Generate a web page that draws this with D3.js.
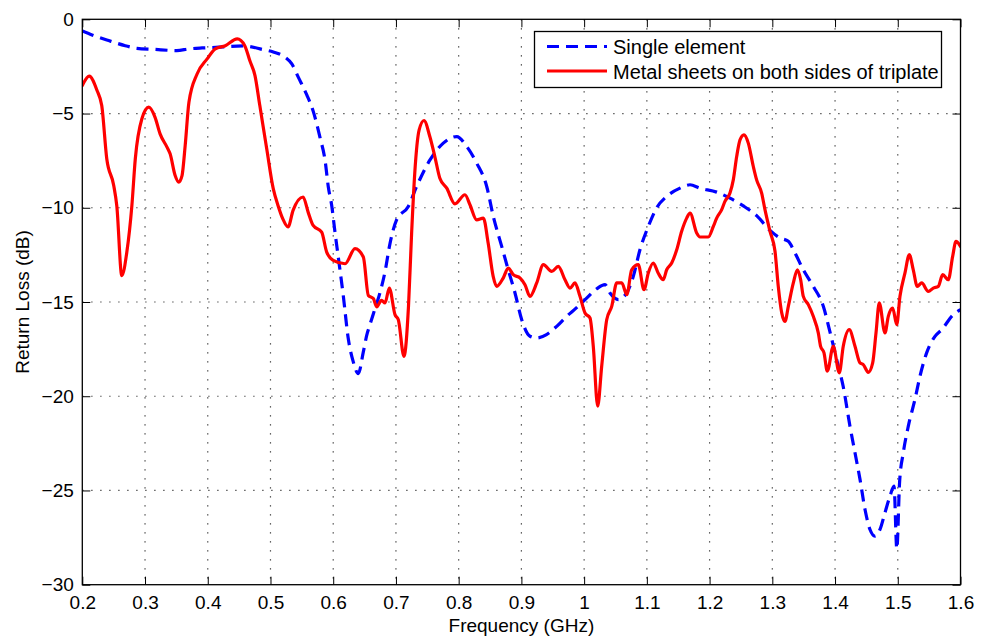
<!DOCTYPE html>
<html>
<head>
<meta charset="utf-8">
<script src="https://cdn.jsdelivr.net/npm/d3@7/dist/d3.min.js"></script>
<style>
  html, body { margin: 0; padding: 0; background: #fff; }
  svg text { font-family: "Liberation Sans", Arial, Helvetica, sans-serif; fill: #000; }
</style>
</head>
<body>
<svg id="chart" width="982" height="639"></svg>
<script>
// Return loss of a single element (dashed blue)
const singleFreq = [0.200,0.2155,0.242,0.2685,0.287,0.313,0.3505,0.370,0.391,0.4175,0.430,0.4567,0.4885,0.5045,0.523,0.534,0.5443,0.5577,0.5683,0.579,0.587,0.5922,0.5976,0.6028,0.608,0.616,0.624,0.632,0.640,0.648,0.6534,0.6586,0.6666,0.6746,0.6825,0.6905,0.701,0.7197,0.733,0.7543,0.7755,0.7969,0.8128,0.8287,0.8447,0.8552,0.8686,0.879,0.8898,0.9005,0.9137,0.9244,0.940,0.9563,0.9722,0.988,1.004,1.020,1.0333,1.0412,1.0545,1.0678,1.0784,1.089,1.1023,1.1157,1.1316,1.1528,1.1688,1.1847,1.2113,1.2325,1.2537,1.275,1.2963,1.3122,1.3255,1.3362,1.3494,1.3653,1.3813,1.392,1.4026,1.4131,1.4238,1.4318,1.4398,1.4477,1.4557,1.4637,1.4717,1.4796,1.4876,1.494,1.4985,1.503,1.5088,1.5168,1.5274,1.5354,1.546,1.5593,1.570,1.5885,1.600];
const singleLoss = [-0.62,-0.83,-1.13,-1.40,-1.54,-1.59,-1.66,-1.57,-1.52,-1.48,-1.45,-1.41,-1.61,-1.73,-2.01,-2.37,-3.07,-4.0,-4.9,-6.28,-7.48,-8.9,-9.88,-11.29,-12.6,-14.65,-16.94,-18.18,-18.8,-17.65,-16.77,-16.2,-15.35,-14.5,-13.41,-11.9,-10.64,-9.93,-8.87,-7.46,-6.57,-6.22,-6.75,-7.63,-8.87,-10.46,-12.05,-13.29,-14.52,-15.94,-16.82,-16.91,-16.73,-16.29,-15.76,-15.3,-14.79,-14.3,-14.08,-14.52,-14.87,-14.52,-13.64,-12.23,-10.99,-10.0,-9.4,-8.96,-8.78,-8.96,-9.17,-9.49,-9.9,-10.42,-11.2,-11.6,-11.78,-12.4,-13.29,-14.17,-15.23,-16.6,-18.06,-19.5,-21.59,-23.0,-24.41,-26.0,-27.07,-27.42,-27.07,-26.18,-25.3,-24.77,-28.1,-24.5,-23.0,-21.59,-20.17,-18.94,-17.7,-16.82,-16.47,-15.67,-15.41];

// Return loss with metal sheets on both sides of the triplate (solid red)
const sheetFreq = [0.200,0.211,0.2235,0.231,0.239,0.250,0.255,0.263,0.271,0.279,0.2845,0.295,0.306,0.316,0.324,0.335,0.340,0.348,0.3537,0.359,0.364,0.370,0.383,0.399,0.412,0.428,0.447,0.459,0.467,0.4753,0.483,0.494,0.5045,0.512,0.5195,0.528,0.536,0.552,0.560,0.568,0.5816,0.5896,0.600,0.619,0.6347,0.648,0.656,0.664,0.6693,0.677,0.6826,0.6894,0.6985,0.7038,0.7128,0.720,0.725,0.730,0.737,0.7447,0.754,0.762,0.770,0.781,0.794,0.810,0.818,0.8287,0.8393,0.847,0.855,0.8606,0.871,0.879,0.887,0.898,0.9057,0.9137,0.9244,0.935,0.9483,0.9588,0.9695,0.9775,0.9854,0.9934,1.0014,1.0094,1.0146,1.0216,1.028,1.036,1.044,1.052,1.060,1.068,1.0758,1.0863,1.0955,1.1023,1.1103,1.118,1.126,1.1316,1.1396,1.1476,1.1555,1.1635,1.1688,1.1794,1.1847,1.198,1.206,1.2113,1.2193,1.2245,1.2325,1.2378,1.2432,1.2485,1.2548,1.2617,1.2697,1.275,1.283,1.2883,1.2963,1.3043,1.3095,1.315,1.3202,1.3255,1.3335,1.340,1.3452,1.3494,1.3574,1.3653,1.3733,1.377,1.3824,1.3877,1.3972,1.4068,1.4131,1.4227,1.4318,1.4398,1.445,1.453,1.460,1.4653,1.4705,1.4796,1.4849,1.4919,1.4983,1.5035,1.5115,1.5184,1.5247,1.5311,1.5381,1.5487,1.5566,1.5646,1.5716,1.5805,1.5875,1.5928,1.600];
const sheetLoss = [-3.52,-3.02,-3.78,-4.58,-7.4,-8.8,-9.9,-13.6,-12.35,-9.9,-7.4,-5.28,-4.66,-5.2,-6.08,-6.78,-7.14,-8.29,-8.64,-8.29,-6.7,-4.4,-2.9,-2.1,-1.57,-1.4,-1.04,-1.4,-2.19,-2.99,-4.58,-6.87,-9.0,-9.88,-10.58,-11.02,-10.14,-9.43,-10.23,-10.94,-11.29,-12.35,-12.79,-12.97,-12.17,-12.61,-14.65,-14.82,-15.26,-14.91,-15.05,-14.26,-15.67,-15.94,-17.88,-15.23,-11.34,-8.16,-5.87,-5.37,-6.22,-7.28,-8.43,-8.96,-9.79,-9.31,-9.84,-10.64,-10.55,-11.87,-13.64,-14.17,-13.73,-13.2,-13.55,-13.73,-14.08,-14.7,-13.99,-13.02,-13.38,-13.11,-13.82,-14.26,-13.99,-14.7,-15.58,-15.85,-17.35,-20.53,-18.41,-15.94,-15.23,-13.99,-13.99,-14.61,-13.29,-13.02,-14.35,-13.46,-12.93,-13.46,-13.82,-13.29,-12.93,-12.23,-11.25,-10.55,-10.28,-11.34,-11.55,-11.55,-10.99,-10.55,-10.1,-9.66,-9.22,-8.52,-7.28,-6.4,-6.13,-6.57,-7.81,-8.52,-9.22,-10.1,-11.25,-12.31,-14.17,-15.58,-16.03,-15.23,-13.99,-13.29,-13.82,-14.7,-15.14,-15.76,-16.64,-17.35,-17.7,-18.67,-17.35,-18.76,-17.35,-16.47,-17.35,-18.23,-18.32,-18.73,-18.23,-16.64,-15.05,-16.64,-15.76,-15.32,-16.2,-14.7,-13.46,-12.49,-13.29,-14.17,-13.99,-14.44,-14.26,-14.17,-13.55,-13.82,-12.58,-11.78,-12.05];

const xTicks = [0.2,0.3,0.4,0.5,0.6,0.7,0.8,0.9,1,1.1,1.2,1.3,1.4,1.5,1.6];
const xTickLabels = ["0.2","0.3","0.4","0.5","0.6","0.7","0.8","0.9","1","1.1","1.2","1.3","1.4","1.5","1.6"];
const yTicks = [0,-5,-10,-15,-20,-25,-30];
const yTickLabels = ["0","\u22125","\u221210","\u221215","\u221220","\u221225","\u221230"];
const seriesNames = ["Single element","Metal sheets on both sides of triplate"];
const xTitle = "Frequency (GHz)";
const yTitle = "Return Loss (dB)";

const svg = d3.select("#chart");
const W = 982, H = 639;
const margin = {left: 82.3, right: 21.5, top: 19.3, bottom: 54.3};
const pw = W - margin.left - margin.right;
const ph = H - margin.top - margin.bottom;
const tickFont = 19;
const dashPattern = "12,7";

const x = d3.scaleLinear().domain([0.2, 1.6]).range([margin.left, margin.left + pw]);
const y = d3.scaleLinear().domain([-30, 0]).range([margin.top + ph, margin.top]);

// dotted grid
const grid = svg.append("g");
xTicks.slice(1, -1).forEach(t => {
  grid.append("line").attr("x1", x(t)).attr("x2", x(t))
    .attr("y1", margin.top).attr("y2", margin.top + ph)
    .attr("stroke", "#333").attr("stroke-width", 1.2).attr("stroke-dasharray", "1.2,7.8");
});
yTicks.slice(1, -1).forEach(t => {
  grid.append("line").attr("x1", margin.left).attr("x2", margin.left + pw)
    .attr("y1", y(t)).attr("y2", y(t))
    .attr("stroke", "#333").attr("stroke-width", 1.2).attr("stroke-dasharray", "1.2,7.8");
});

// curves, clipped to the plot box
svg.append("clipPath").attr("id", "plotClip").append("rect")
  .attr("x", margin.left).attr("y", margin.top).attr("width", pw).attr("height", ph);

const line = d3.line().x(d => x(d[0])).y(d => y(d[1])).curve(d3.curveMonotoneX);
const singleData = singleFreq.map((f, i) => [f, singleLoss[i]]);
const sheetData = sheetFreq.map((f, i) => [f, sheetLoss[i]]);

const plot = svg.append("g").attr("clip-path", "url(#plotClip)");
plot.append("path").datum(singleData).attr("d", line)
  .attr("fill", "none").attr("stroke", "#0000ff").attr("stroke-width", 3.2)
  .attr("stroke-dasharray", dashPattern).attr("stroke-linejoin", "round");
plot.append("path").datum(sheetData).attr("d", line)
  .attr("fill", "none").attr("stroke", "#ff0000").attr("stroke-width", 3.2)
  .attr("stroke-linejoin", "round").attr("stroke-linecap", "round");

// axes with inward ticks on all four sides
const tickLen = 8;
const axG = svg.append("g");
const axisB = d3.axisBottom(x).tickValues(xTicks).tickFormat((d, i) => xTickLabels[i]).tickSizeInner(-tickLen).tickSizeOuter(0).tickPadding(tickLen + 3);
const axisT = d3.axisTop(x).tickValues(xTicks).tickFormat("").tickSizeInner(-tickLen).tickSizeOuter(0);
const axisL = d3.axisLeft(y).tickValues(yTicks).tickFormat((d, i) => yTickLabels[i]).tickSizeInner(-tickLen).tickSizeOuter(0).tickPadding(tickLen + 0.5);
const axisR = d3.axisRight(y).tickValues(yTicks).tickFormat("").tickSizeInner(-tickLen).tickSizeOuter(0);

function styleAxis(g) {
  g.select(".domain").remove();
  g.selectAll(".tick line").attr("stroke", "#000").attr("stroke-width", 1);
  g.selectAll(".tick text").attr("font-size", tickFont).attr("font-family", "Liberation Sans, Arial, sans-serif").attr("fill", "#000");
}
axG.append("g").attr("transform", `translate(0,${margin.top + ph})`).call(axisB).call(styleAxis);
axG.append("g").attr("transform", `translate(0,${margin.top})`).call(axisT).call(styleAxis);
axG.append("g").attr("transform", `translate(${margin.left},0)`).call(axisL).call(styleAxis);
axG.append("g").attr("transform", `translate(${margin.left + pw},0)`).call(axisR).call(styleAxis);

axG.append("rect").attr("x", margin.left).attr("y", margin.top).attr("width", pw).attr("height", ph)
  .attr("fill", "none").attr("stroke", "#000").attr("stroke-width", 1.3);

// axis titles
svg.append("text").attr("x", margin.left + pw / 2).attr("y", 632)
  .attr("text-anchor", "middle").attr("font-size", 19).text(xTitle);
svg.append("text").attr("transform", `translate(29,${margin.top + ph / 2}) rotate(-90)`)
  .attr("text-anchor", "middle").attr("font-size", 19).text(yTitle);

// legend
const lg = svg.append("g");
lg.append("rect").attr("x", 534.5).attr("y", 31.5).attr("width", 407).attr("height", 56)
  .attr("fill", "#fff").attr("stroke", "#000").attr("stroke-width", 1.3);
const rows = [
  {name: seriesNames[0], color: "#0000ff", dash: dashPattern, cy: 46.5, base: 54},
  {name: seriesNames[1], color: "#ff0000", dash: null, cy: 71, base: 78.5}
];
rows.forEach(r => {
  const l = lg.append("line").attr("x1", 547).attr("x2", 607).attr("y1", r.cy).attr("y2", r.cy)
    .attr("stroke", r.color).attr("stroke-width", 3.2);
  if (r.dash) l.attr("stroke-dasharray", r.dash);
  lg.append("text").attr("x", 613).attr("y", r.base)
    .attr("font-size", 20).text(r.name);
});
</script>
</body>
</html>
